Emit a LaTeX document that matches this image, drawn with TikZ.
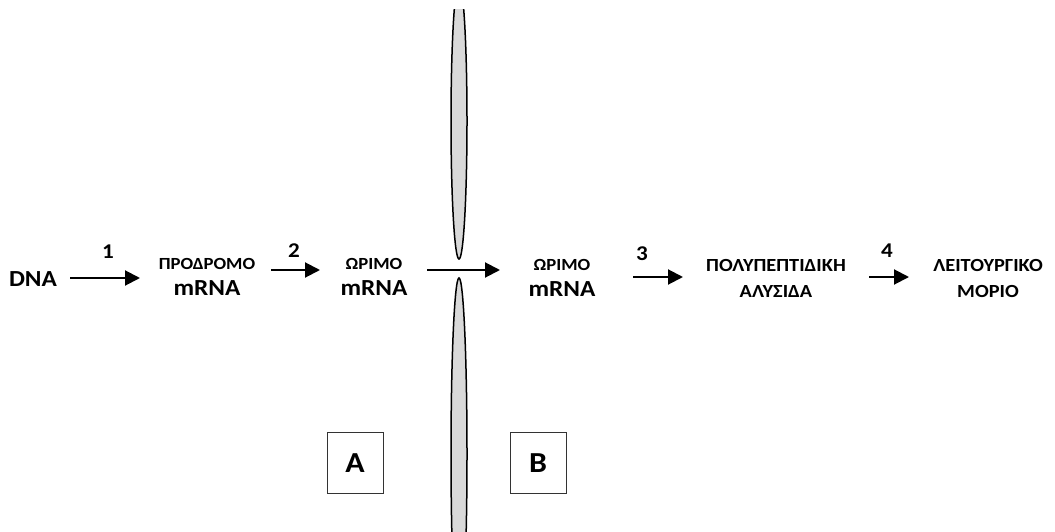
\documentclass[tikz,border=0pt]{standalone}
\usepackage{fontspec}
\setmainfont{Carlito}[FakeStretch=1.1]
\usetikzlibrary{arrows.meta}
\newcommand\smalltxt{\fontsize{17}{26}\selectfont\bfseries}
\newcommand\midtxt{\fontsize{18.5}{26}\selectfont\bfseries}
\newcommand\bigtxt{\fontsize{23}{26}\selectfont\bfseries}
\tikzset{
  lbl/.style={align=center, inner sep=0pt, font=\fontsize{17}{26}\selectfont\bfseries},
  num/.style={font=\fontsize{21}{22}\selectfont\bfseries, inner sep=0pt},
  arr/.style={line width=2pt, -{Triangle[length=15pt,width=15pt]}},
  side/.style={draw=black!80, line width=1pt, minimum width=56pt, minimum height=61pt, font=\fontsize{29}{30}\selectfont\bfseries},
  membrane/.style={draw, line width=1.5pt, fill=black!15}
}
\begin{document}
\begin{tikzpicture}[x=1pt, y=-1pt]
    \useasboundingbox (0,0) rectangle (1055,532);
        % cell membrane
        \begin{scope}
            \clip (0,10) rectangle (1055,540);
            \draw[membrane] (459,121) ellipse [x radius=8, y radius=138];
            \draw[membrane] (459,454) ellipse [x radius=8, y radius=176];
        \end{scope}
        \node[lbl, font=\bigtxt] (DNA) at (33,279) {DNA};
        \node[lbl] (pre) at (207,277) {
            \smalltxt ΠΡΟΔΡΟΜΟ\\ \bigtxt mRNA
        };
        \node[lbl] (matureA) at (374,277) {
            \smalltxt ΩΡΙΜΟ\\ \bigtxt mRNA
        };
        \node[lbl] (matureB) at (562,278) {
            \smalltxt ΩΡΙΜΟ\\ \bigtxt mRNA
        };
        \node[lbl] (chain) at (776,278) {
            \midtxt ΠΟΛΥΠΕΠΤΙΔΙΚΗ\\ \midtxt ΑΛΥΣΙΔΑ
        };
        \node[lbl] (molecule) at (988,278) {
            \midtxt ΛΕΙΤΟΥΡΓΙΚΟ\\ \midtxt ΜΟΡΙΟ
        };
        \node[side] (boxA) at (355,463) {A};
        \node[side] (boxB) at (538,463) {B};
        % arrow ends
        \coordinate (s1) at (70,278);  \coordinate (e1) at (140,278);
        \coordinate (s2) at (271,270); \coordinate (e2) at (320,270);
        \coordinate (s0) at (427,270); \coordinate (e0) at (500,270);
        \coordinate (s3) at (633,277); \coordinate (e3) at (683,277);
        \coordinate (s4) at (869,277); \coordinate (e4) at (909,277);
        \draw[arr] (s1) -- (e1);
        \draw[arr] (s2) -- (e2);
        \draw[arr] (s0) -- (e0);
        \draw[arr] (s3) -- (e3);
        \draw[arr] (s4) -- (e4);
        \node[num] (n1) at (108,252) {1};
        \node[num] (n2) at (294,251) {2};
        \node[num] (n3) at (642,254) {3};
        \node[num] (n4) at (887,251) {4};
\end{tikzpicture}
\end{document}
